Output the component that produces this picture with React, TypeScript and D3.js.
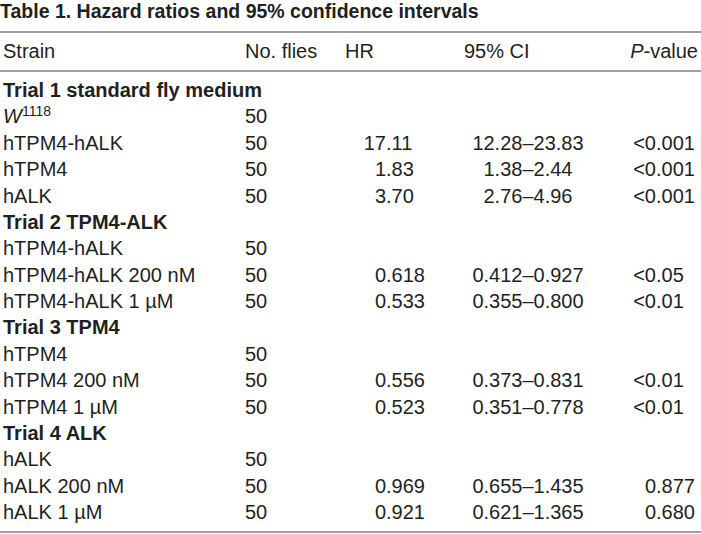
import React from "react";
import * as d3 from "d3";

const titleText = "Table 1. Hazard ratios and 95% confidence intervals";
const columnHeaders = ["Strain", "No. flies", "HR", "95% CI", "P-value"];

const rowLabels = [
  "Trial 1 standard fly medium",
  "W1118",
  "hTPM4-hALK",
  "hTPM4",
  "hALK",
  "Trial 2 TPM4-ALK",
  "hTPM4-hALK",
  "hTPM4-hALK 200 nM",
  "hTPM4-hALK 1 µM",
  "Trial 3 TPM4",
  "hTPM4",
  "hTPM4 200 nM",
  "hTPM4 1 µM",
  "Trial 4 ALK",
  "hALK",
  "hALK 200 nM",
  "hALK 1 µM",
];
const rowIsGroup = [true, false, false, false, false, true, false, false, false, true, false, false, false, true, false, false, false];
const nFlies = ["", "50", "50", "50", "50", "", "50", "50", "50", "", "50", "50", "50", "", "50", "50", "50"];
const hrValues = ["", "", "17.11", "1.83", "3.70", "", "", "0.618", "0.533", "", "", "0.556", "0.523", "", "", "0.969", "0.921"];
const ciValues = ["", "", "12.28–23.83", "1.38–2.44", "2.76–4.96", "", "", "0.412–0.927", "0.355–0.800", "", "", "0.373–0.831", "0.351–0.778", "", "", "0.655–1.435", "0.621–1.365"];
const pValues = ["", "", "<0.001", "<0.001", "<0.001", "", "", "<0.05", "<0.01", "", "", "<0.01", "<0.01", "", "", "0.877", "0.680"];

const W = 701;
const H = 534;
const FONT = "'Liberation Sans', Arial, sans-serif";
const FS = 20;
const TEXT = "#231f20";
const RULE = "#808080";

function DecimalText({ value, x, y }: { value: string; x: number; y: number }) {
  const k = value.indexOf(".");
  const intPart = k >= 0 ? value.slice(0, k) : value;
  const frac = k >= 0 ? value.slice(k) : "";
  return (
    <g>
      <text x={x} y={y} textAnchor="end">{intPart}</text>
      {frac && <text x={x} y={y}>{frac}</text>}
    </g>
  );
}

export default function App() {
  const y = d3.scaleLinear().domain([0, rowLabels.length - 1]).range([90, 512]);
  const base = 7;
  const colStrain = 3;
  const colN = 245;
  const colHRHead = 345;
  const colHRDec = 386;
  const colCIHead = 464;
  const colCICenter = 528;
  const colPDec = 656;
  const colPRight = 698;

  return (
    <svg width={W} height={H} style={{ position: "absolute", left: 0, top: 0, background: "#fff" }} fontFamily={FONT}>
      <rect x={0} y={0} width={W} height={H} fill="#fff" />
      <text x={0} y={18} fontSize={19.5} fontWeight="bold" fill={TEXT}>{titleText}</text>
      <line x1={0} x2={W} y1={32} y2={32} stroke={RULE} strokeWidth={1.6} />
      <g fontSize={FS} fill={TEXT}>
        <text x={colStrain} y={51 + base}>{columnHeaders[0]}</text>
        <text x={colN} y={51 + base}>{columnHeaders[1]}</text>
        <text x={colHRHead} y={51 + base}>{columnHeaders[2]}</text>
        <text x={colCIHead} y={51 + base}>{columnHeaders[3]}</text>
        <text x={colPRight} y={51 + base} textAnchor="end">
          <tspan fontStyle="italic">P</tspan>
          <tspan>-value</tspan>
        </text>
      </g>
      <line x1={0} x2={W} y1={71} y2={71} stroke={RULE} strokeWidth={1.6} />
      <g fontSize={FS} fill={TEXT}>
        {rowLabels.map((label, i) => {
          const yy = y(i) + base;
          return (
            <g key={i}>
              {label === "W1118" ? (
                <text x={colStrain} y={yy}>
                  <tspan fontStyle="italic">W</tspan>
                  <tspan fontSize={14} dy={-7}>1118</tspan>
                </text>
              ) : (
                <text x={colStrain} y={yy} fontWeight={rowIsGroup[i] ? "bold" : "normal"}>{label}</text>
              )}
              {nFlies[i] && <text x={colN} y={yy}>{nFlies[i]}</text>}
              {hrValues[i] && <DecimalText value={hrValues[i]} x={colHRDec} y={yy} />}
              {ciValues[i] && <text x={colCICenter} y={yy} textAnchor="middle">{ciValues[i]}</text>}
              {pValues[i] && <DecimalText value={pValues[i]} x={colPDec} y={yy} />}
            </g>
          );
        })}
      </g>
      <line x1={0} x2={W} y1={532} y2={532} stroke={RULE} strokeWidth={1.6} />
    </svg>
  );
}
